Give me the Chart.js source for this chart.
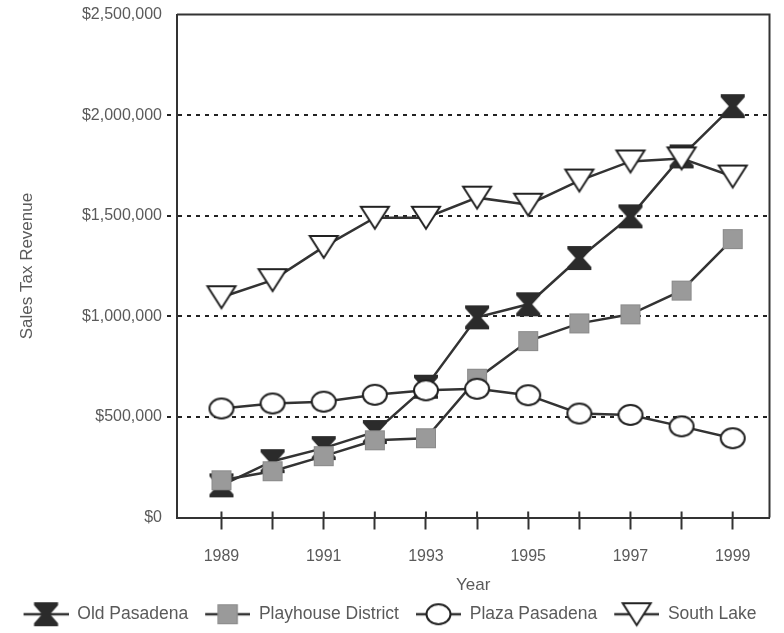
<!DOCTYPE html>
<html>
<head>
<meta charset="utf-8">
<title>Sales Tax Revenue</title>
<script src="https://cdn.jsdelivr.net/npm/chart.js@4.4.1/dist/chart.umd.min.js"></script>
<style>
  html, body { margin: 0; padding: 0; background: #fff; }
  #wrap { width: 784px; height: 633px; }
</style>
</head>
<body>
<div id="wrap"><canvas id="sales" width="784" height="633"></canvas></div>
<script>
// values
var years = [1989, 1990, 1991, 1992, 1993, 1994, 1995, 1996, 1997, 1998, 1999];
var oldPasadena = [160000, 280000, 345000, 425000, 650000, 995000, 1060000, 1290000, 1497000, 1795000, 2045000];
var playhouseDistrict = [185000, 230000, 305000, 384000, 394000, 690000, 877000, 965000, 1010000, 1128000, 1384000];
var plazaPasadena = [542000, 567000, 576000, 610000, 632000, 640000, 608000, 517000, 510000, 453000, 394000];
var southLake = [1095000, 1180000, 1345000, 1490000, 1490000, 1590000, 1555000, 1675000, 1770000, 1785000, 1695000];
var seriesNames = ['Old Pasadena', 'Playhouse District', 'Plaza Pasadena', 'South Lake'];
var yTicks = [0, 500000, 1000000, 1500000, 2000000, 2500000];

var ink = '#333';
var textGrey = '#5a5a5a';

// marker shapes, drawn round (cx, cy)
function bowtie(g, cx, cy) {
  g.beginPath();
  g.moveTo(cx - 12, cy - 12); g.lineTo(cx + 12, cy - 12); g.lineTo(cx + 12, cy - 9);
  g.lineTo(cx + 4, cy); g.lineTo(cx + 12, cy + 9); g.lineTo(cx + 12, cy + 12);
  g.lineTo(cx - 12, cy + 12); g.lineTo(cx - 12, cy + 9); g.lineTo(cx - 4, cy);
  g.lineTo(cx - 12, cy - 9);
  g.closePath();
  g.fillStyle = '#2b2b2b';
  g.fill();
}
function square(g, cx, cy) {
  g.fillStyle = '#9a9a9a';
  g.fillRect(cx - 10, cy - 10, 20, 20);
  g.strokeStyle = '#8a8a8a';
  g.lineWidth = 1;
  g.strokeRect(cx - 9.5, cy - 9.5, 19, 19);
}
function ellipse(g, cx, cy) {
  g.beginPath();
  g.ellipse(cx, cy, 12, 10, 0, 0, Math.PI * 2);
  g.fillStyle = '#fff';
  g.fill();
  g.strokeStyle = '#222';
  g.lineWidth = 2;
  g.stroke();
}
function triangle(g, cx, cy) {
  g.beginPath();
  g.moveTo(cx - 14, cy - 11); g.lineTo(cx + 14, cy - 11); g.lineTo(cx, cy + 11);
  g.closePath();
  g.fillStyle = '#fff';
  g.fill();
  g.strokeStyle = '#222';
  g.lineWidth = 2;
  g.lineJoin = 'miter';
  g.stroke();
}

function makeCanvas(w, h, draw) {
  var c = document.createElement('canvas');
  c.width = w; c.height = h;
  draw(c.getContext('2d'), w, h);
  return c;
}
function pointImage(shape) {
  return makeCanvas(34, 34, function(g) { shape(g, 17, 17); });
}
function legendImage(shape) {
  return makeCanvas(52, 32, function(g) {
    g.strokeStyle = ink;
    g.lineWidth = 2.5;
    g.beginPath(); g.moveTo(7, 16); g.lineTo(52, 16); g.stroke();
    shape(g, 29.5, 16);
  });
}

var shapes = [bowtie, square, ellipse, triangle];
var values = [oldPasadena, playhouseDistrict, plazaPasadena, southLake];
var legendImgs = shapes.map(legendImage);

function toPoints(arr) {
  return years.map(function(yr, i) { return {x: yr, y: arr[i]}; });
}

var datasets = seriesNames.map(function(name, i) {
  return {
    label: name,
    data: toPoints(values[i]),
    borderColor: ink,
    borderWidth: 2.5,
    pointStyle: pointImage(shapes[i]),
    pointRadius: 12,
    pointHoverRadius: 12,
    tension: 0,
    fill: false,
    order: 4 - i
  };
});

// box round the plot and the part of the year ticks above the axis
var framePlugin = {
  id: 'frame',
  beforeDatasetsDraw: function(chart) {
    var a = chart.chartArea, g = chart.ctx, xs = chart.scales.x;
    g.save();
    g.strokeStyle = ink;
    g.lineWidth = 2;
    g.beginPath();
    g.moveTo(a.left, a.top); g.lineTo(a.right, a.top); g.lineTo(a.right, a.bottom);
    g.stroke();
    g.beginPath();
    years.forEach(function(yr) {
      var px = xs.getPixelForValue(yr);
      g.moveTo(px, a.bottom - 6); g.lineTo(px, a.bottom);
    });
    g.stroke();
    g.restore();
  }
};

Chart.defaults.font.family = '"Liberation Sans", Arial, sans-serif';
Chart.defaults.font.size = 16;
Chart.defaults.font.weight = 'normal';
Chart.defaults.color = textGrey;

new Chart(document.getElementById('sales'), {
  type: 'line',
  data: { datasets: datasets },
  plugins: [framePlugin],
  options: {
    responsive: false,
    animation: false,
    devicePixelRatio: 1,
    layout: { padding: { top: 10, right: 11, left: 0, bottom: 0 } },
    plugins: {
      tooltip: { enabled: false },
      legend: {
        position: 'bottom',
        labels: {
          usePointStyle: true,
          pointStyleWidth: 52,
          padding: 10,
          color: textGrey,
          font: { size: 17.5 },
          generateLabels: function(chart) {
            return chart.data.datasets.map(function(ds, i) {
              return {
                text: ds.label,
                pointStyle: legendImgs[i],
                datasetIndex: i,
                hidden: false,
                lineWidth: 0,
                fontColor: textGrey
              };
            });
          }
        }
      }
    },
    scales: {
      x: {
        type: 'linear',
        min: 1988.13,
        max: 1999.72,
        afterBuildTicks: function(scale) {
          scale.ticks = years.map(function(v) { return {value: v}; });
        },
        afterFit: function(scale) { scale.height = 78; },
        ticks: {
          autoSkip: false,
          maxRotation: 0,
          padding: 17,
          callback: function(v) { return v % 2 === 1 ? String(v) : ''; }
        },
        grid: {
          drawOnChartArea: false,
          drawTicks: true,
          tickLength: 12,
          tickColor: ink,
          tickWidth: 2
        },
        border: { display: true, color: ink, width: 2 },
        title: {
          display: true,
          text: 'Year',
          padding: { top: 0, bottom: 0 },
          font: { size: 17 }
        }
      },
      y: {
        min: 0,
        max: 2500000,
        afterBuildTicks: function(scale) {
          scale.ticks = yTicks.map(function(v) { return {value: v}; });
        },
        afterFit: function(scale) { scale.width = 177; },
        ticks: {
          padding: 5,
          callback: function(v) { return '$' + Number(v).toLocaleString('en-US'); }
        },
        grid: {
          color: function(c) {
            var v = c.tick ? c.tick.value : 0;
            return (v === 0 || v === 2500000) ? 'rgba(0,0,0,0)' : '#222';
          },
          tickColor: function(c) {
            var v = c.tick ? c.tick.value : 0;
            return (v === 0 || v === 2500000) ? 'rgba(0,0,0,0)' : '#222';
          },
          lineWidth: 2,
          tickLength: 10,
          tickWidth: 2,
          tickBorderDash: [4, 5]
        },
        border: { display: true, color: ink, width: 2, dash: [4, 5] },
        title: {
          display: true,
          text: 'Sales Tax Revenue',
          padding: { top: 17, bottom: 0 },
          font: { size: 17 }
        }
      }
    }
  }
});
</script>
</body>
</html>
